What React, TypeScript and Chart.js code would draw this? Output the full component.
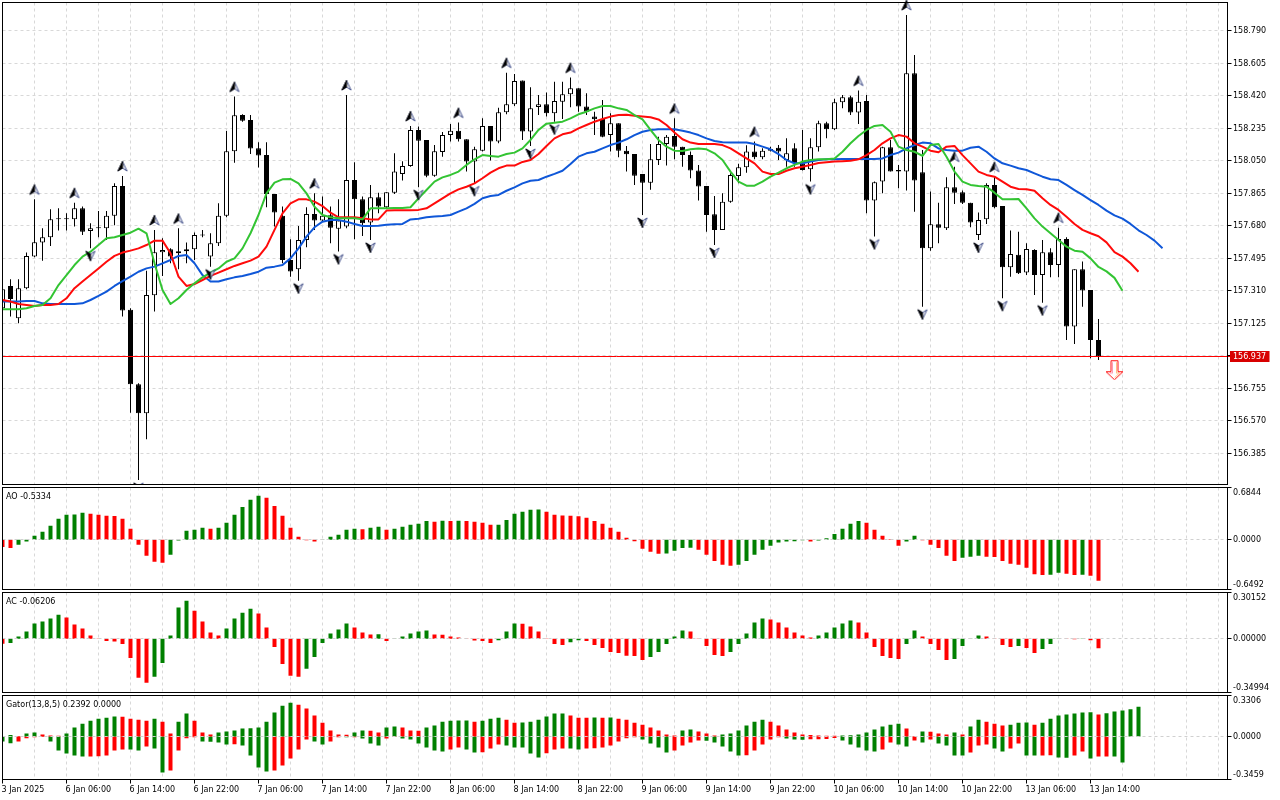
import React, { useEffect, useRef } from 'react';
import { Chart, registerables } from 'chart.js';

Chart.register(...registerables);

// ---------------- DATA (hourly bars, index 0 = "3 Jan 2025") ----------------
const opens = [
  157.210, 157.337, 157.153, 157.324, 157.504, 157.584, 157.614, 157.717, 157.718, 157.717,
  157.779, 157.650, 157.665, 157.665, 157.737, 157.906, 157.201, 156.777, 156.612, 157.284,
  157.529, 157.546, 157.523, 157.534, 157.546, 157.624, 157.504, 157.580, 157.736, 158.104,
  158.310, 158.282, 158.121, 158.083, 157.861, 157.736, 157.485, 157.432, 157.599, 157.747,
  157.709, 157.739, 157.663, 157.675, 157.940, 157.830, 157.698, 157.842, 157.785, 157.868,
  157.975, 158.020, 158.225, 158.168, 157.965, 158.100, 158.197, 158.221, 158.172, 158.045,
  158.107, 158.248, 158.159, 158.326, 158.371, 158.506, 158.216, 158.356, 158.371, 158.320,
  158.386, 158.428, 158.462, 158.358, 158.301, 158.288, 158.197, 158.263, 158.106, 158.088,
  157.975, 157.925, 158.054, 158.145, 158.191, 158.130, 158.083, 157.994, 157.906, 157.745,
  157.656, 157.817, 157.963, 158.013, 158.102, 158.069, 158.107, 158.124, 158.054, 158.121,
  158.035, 158.001, 158.126, 158.263, 158.229, 158.383, 158.411, 158.324, 158.390, 157.823,
  157.931, 158.126, 157.997, 157.988, 158.548, 157.984, 157.552, 157.688, 157.665, 157.899,
  157.870, 157.811, 157.627, 157.717, 157.912, 157.792, 157.443, 157.514, 157.413, 157.542,
  157.400, 157.529, 157.457, 157.605, 157.106, 157.432, 157.314, 157.030,
];
const highs = [
  157.343, 157.375, 157.375, 157.527, 157.830, 157.665, 157.774, 157.779, 157.751, 157.811,
  157.789, 157.694, 157.764, 157.764, 157.921, 157.963, 157.210, 156.783, 157.424, 157.656,
  157.608, 157.552, 157.665, 157.584, 157.641, 157.656, 157.637, 157.808, 158.219, 158.415,
  158.314, 158.310, 158.155, 158.155, 157.861, 157.789, 157.603, 157.679, 157.785, 157.865,
  157.846, 157.789, 157.830, 158.424, 158.041, 157.846, 157.912, 157.868, 157.870, 158.092,
  158.047, 158.248, 158.244, 158.168, 158.140, 158.214, 158.259, 158.267, 158.172, 158.130,
  158.291, 158.248, 158.352, 158.551, 158.544, 158.506, 158.468, 158.424, 158.438, 158.500,
  158.500, 158.523, 158.462, 158.434, 158.329, 158.396, 158.320, 158.263, 158.134, 158.088,
  157.975, 158.145, 158.187, 158.197, 158.291, 158.130, 158.102, 158.026, 157.906, 157.849,
  157.865, 157.978, 158.032, 158.138, 158.159, 158.121, 158.130, 158.140, 158.178, 158.149,
  158.225, 158.178, 158.278, 158.272, 158.402, 158.424, 158.419, 158.449, 158.424, 157.931,
  158.130, 158.168, 158.026, 158.880, 158.652, 158.111, 157.874, 157.811, 157.956, 158.016,
  157.880, 157.811, 157.755, 157.921, 157.959, 157.792, 157.652, 157.646, 157.580, 157.546,
  157.599, 157.552, 157.669, 157.614, 157.432, 157.476, 157.314, 157.149,
];
const lows = [
  157.191, 157.163, 157.125, 157.318, 157.500, 157.481, 157.565, 157.652, 157.652, 157.675,
  157.627, 157.552, 157.614, 157.599, 157.682, 157.163, 156.616, 156.233, 156.464, 157.191,
  157.394, 157.466, 157.432, 157.466, 157.485, 157.614, 157.447, 157.565, 157.728, 158.039,
  158.272, 158.088, 158.011, 157.785, 157.675, 157.466, 157.390, 157.367, 157.557, 157.656,
  157.703, 157.580, 157.533, 157.665, 157.603, 157.622, 157.599, 157.751, 157.781, 157.861,
  157.937, 158.016, 157.899, 157.956, 157.959, 158.073, 158.159, 158.159, 157.988, 157.921,
  158.102, 158.051, 158.149, 158.314, 158.362, 158.168, 158.134, 158.310, 158.301, 158.272,
  158.288, 158.354, 158.329, 158.310, 158.197, 158.183, 158.102, 158.069, 157.988, 157.912,
  157.741, 157.884, 158.026, 158.022, 158.058, 158.016, 157.950, 157.823, 157.646, 157.570,
  157.656, 157.811, 157.921, 157.982, 158.058, 158.058, 158.102, 158.054, 158.016, 158.016,
  157.994, 157.931, 158.102, 158.178, 158.225, 158.348, 158.310, 158.259, 157.751, 157.618,
  157.865, 157.988, 157.893, 157.880, 157.760, 157.219, 157.538, 157.580, 157.656, 157.804,
  157.804, 157.671, 157.599, 157.690, 157.779, 157.267, 157.390, 157.405, 157.400, 157.286,
  157.242, 157.386, 157.386, 157.030, 157.007, 157.219, 156.925, 156.916,
];
const closes = [
  157.318, 157.263, 157.324, 157.508, 157.586, 157.614, 157.717, 157.718, 157.717, 157.779,
  157.646, 157.665, 157.667, 157.737, 157.906, 157.197, 156.777, 156.612, 157.286, 157.529,
  157.542, 157.504, 157.534, 157.546, 157.627, 157.625, 157.580, 157.736, 158.104, 158.309,
  158.278, 158.119, 158.079, 157.861, 157.755, 157.485, 157.419, 157.599, 157.747, 157.709,
  157.736, 157.669, 157.709, 157.940, 157.830, 157.694, 157.842, 157.789, 157.870, 157.988,
  158.020, 158.225, 158.164, 157.965, 158.104, 158.197, 158.221, 158.172, 158.045, 158.115,
  158.248, 158.159, 158.326, 158.371, 158.504, 158.216, 158.348, 158.371, 158.320, 158.390,
  158.428, 158.462, 158.358, 158.329, 158.286, 158.187, 158.263, 158.107, 158.087, 157.965,
  157.925, 158.058, 158.145, 158.187, 158.130, 158.083, 157.994, 157.903, 157.741, 157.656,
  157.817, 157.969, 158.013, 158.102, 158.069, 158.107, 158.117, 158.102, 158.092, 158.035,
  157.997, 158.126, 158.263, 158.229, 158.383, 158.411, 158.324, 158.386, 157.823, 157.927,
  158.126, 157.988, 157.988, 158.548, 157.937, 157.552, 157.688, 157.669, 157.899, 157.868,
  157.811, 157.698, 157.713, 157.912, 157.785, 157.443, 157.519, 157.409, 157.548, 157.400,
  157.529, 157.457, 157.605, 157.106, 157.432, 157.311, 157.030, 156.937,
];

// Alligator (already shifted forward: lips +3, teeth +5, jaw +8 bars)
const lipsLine = [
  157.204, 157.204, 157.204, 157.210, 157.223, 157.229, 157.267, 157.342, 157.399, 157.456,
  157.504, 157.532, 157.570, 157.608, 157.614, 157.627, 157.640, 157.663, 157.637, 157.466,
  157.314, 157.234, 157.267, 157.314, 157.352, 157.386, 157.413, 157.437, 157.475, 157.494,
  157.551, 157.637, 157.741, 157.864, 157.925, 157.944, 157.946, 157.921, 157.864, 157.788,
  157.741, 157.728, 157.722, 157.722, 157.722, 157.716, 157.779, 157.779, 157.779, 157.781,
  157.781, 157.785, 157.836, 157.883, 157.931, 157.955, 157.969, 157.988, 158.026, 158.058,
  158.082, 158.077, 158.073, 158.088, 158.096, 158.120, 158.168, 158.225, 158.261, 158.266,
  158.272, 158.291, 158.314, 158.329, 158.348, 158.361, 158.361, 158.348, 158.339, 158.310,
  158.285, 158.225, 158.168, 158.130, 158.107, 158.105, 158.115, 158.119, 158.115, 158.092,
  158.054, 157.988, 157.931, 157.908, 157.908, 157.931, 157.959, 157.982, 158.007, 158.026,
  158.045, 158.054, 158.058, 158.058, 158.063, 158.101, 158.149, 158.191, 158.225, 158.248,
  158.253, 158.215, 158.130, 158.111, 158.101, 158.077, 158.139, 158.145, 158.073, 157.988,
  157.931, 157.912, 157.906, 157.902, 157.868, 157.830, 157.830, 157.832, 157.779, 157.722,
  157.675, 157.637, 157.599, 157.561, 157.538, 157.532, 157.494, 157.445, 157.420, 157.383,
  157.310,
];
const teethLine = [
  157.257, 157.248, 157.234, 157.229, 157.223, 157.229, 157.229, 157.234, 157.267, 157.324,
  157.362, 157.399, 157.437, 157.475, 157.508, 157.527, 157.538, 157.551, 157.570, 157.595,
  157.595, 157.523, 157.390, 157.337, 157.348, 157.371, 157.394, 157.413, 157.432, 157.451,
  157.466, 157.481, 157.504, 157.561, 157.656, 157.750, 157.807, 157.830, 157.830, 157.817,
  157.792, 157.754, 157.728, 157.728, 157.728, 157.722, 157.716, 157.716, 157.766, 157.768,
  157.768, 157.768, 157.770, 157.779, 157.807, 157.836, 157.864, 157.887, 157.902, 157.921,
  157.950, 157.982, 158.007, 158.022, 158.022, 158.043, 158.054, 158.088, 158.134, 158.177,
  158.200, 158.210, 158.234, 158.253, 158.272, 158.287, 158.301, 158.310, 158.312, 158.306,
  158.301, 158.297, 158.285, 158.253, 158.210, 158.172, 158.153, 158.145, 158.145, 158.145,
  158.139, 158.120, 158.092, 158.063, 158.035, 157.988, 157.974, 157.974, 157.993, 158.007,
  158.016, 158.026, 158.037, 158.041, 158.045, 158.047, 158.050, 158.058, 158.082, 158.111,
  158.149, 158.177, 158.196, 158.187, 158.149, 158.130, 158.107, 158.098, 158.130, 158.134,
  158.082, 158.035, 157.988, 157.969, 157.959, 157.931, 157.902, 157.889, 157.887, 157.879,
  157.836, 157.798, 157.770, 157.731, 157.690, 157.656, 157.637, 157.620, 157.585, 157.529,
  157.504, 157.466, 157.418,
];
const jawLine = [
  157.248, 157.248, 157.248, 157.251, 157.251, 157.238, 157.234, 157.234, 157.234, 157.234,
  157.238, 157.257, 157.280, 157.305, 157.337, 157.365, 157.390, 157.418, 157.437, 157.447,
  157.466, 157.485, 157.508, 157.513, 157.466, 157.399, 157.362, 157.362, 157.375, 157.386,
  157.394, 157.405, 157.418, 157.441, 157.447, 157.456, 157.494, 157.551, 157.618, 157.671,
  157.703, 157.712, 157.712, 157.703, 157.690, 157.678, 157.678, 157.680, 157.686, 157.688,
  157.690, 157.716, 157.720, 157.728, 157.732, 157.735, 157.741, 157.760, 157.779, 157.804,
  157.836, 157.849, 157.855, 157.879, 157.898, 157.921, 157.936, 157.940, 157.959, 157.975,
  157.993, 158.031, 158.073, 158.092, 158.101, 158.120, 158.139, 158.153, 158.172, 158.196,
  158.215, 158.225, 158.229, 158.229, 158.229, 158.221, 158.210, 158.196, 158.177, 158.162,
  158.155, 158.153, 158.153, 158.153, 158.145, 158.130, 158.115, 158.088, 158.054, 158.035,
  158.035, 158.045, 158.054, 158.058, 158.058, 158.060, 158.060, 158.060, 158.060, 158.060,
  158.063, 158.082, 158.096, 158.120, 158.139, 158.153, 158.149, 158.120, 158.111, 158.107,
  158.107, 158.124, 158.130, 158.101, 158.063, 158.035, 158.022, 158.007, 157.997, 157.978,
  157.959, 157.944, 157.940, 157.912, 157.883, 157.855, 157.826, 157.798, 157.766, 157.739,
  157.720, 157.690, 157.654, 157.627, 157.595, 157.552,
];

// Fractal bars (indices into the price arrays)
const upFractalBars = [4, 9, 15, 19, 22, 29, 39, 43, 51, 57, 63, 71, 84, 94, 107, 113, 119, 124, 132];
const downFractalBars = [11, 17, 26, 37, 42, 46, 52, 59, 66, 69, 80, 89, 101, 109, 115, 122, 125, 130];

// Awesome Oscillator
const aoValues = [
  -0.092, -0.105, -0.065, -0.022, 0.052, 0.105, 0.183, 0.275, 0.327, 0.330,
  0.353, 0.340, 0.327, 0.314, 0.312, 0.275, 0.144, -0.065, -0.209, -0.288,
  -0.301, -0.196, -0.009, 0.118, 0.131, 0.157, 0.144, 0.157, 0.222, 0.327,
  0.431, 0.523, 0.575, 0.549, 0.444, 0.314, 0.157, 0.039, -0.004, -0.022,
  0.004, 0.039, 0.065, 0.131, 0.144, 0.140, 0.157, 0.170, 0.131, 0.144,
  0.170, 0.196, 0.209, 0.248, 0.235, 0.250, 0.247, 0.249, 0.246, 0.235,
  0.222, 0.196, 0.197, 0.261, 0.340, 0.366, 0.392, 0.396, 0.366, 0.327,
  0.318, 0.314, 0.310, 0.288, 0.248, 0.209, 0.157, 0.105, 0.026, -0.017,
  -0.118, -0.157, -0.183, -0.180, -0.144, -0.105, -0.103, -0.131, -0.196, -0.275,
  -0.327, -0.340, -0.327, -0.275, -0.196, -0.131, -0.078, -0.035, -0.022, -0.017,
  -0.004, -0.022, -0.009, 0.022, 0.078, 0.144, 0.209, 0.248, 0.222, 0.131,
  0.052, 0.009, -0.078, -0.022, 0.052, -0.004, -0.065, -0.105, -0.209, -0.275,
  -0.235, -0.222, -0.209, -0.222, -0.224, -0.275, -0.314, -0.327, -0.366, -0.449,
  -0.458, -0.457, -0.431, -0.444, -0.458, -0.456, -0.471, -0.5334,
];

// Accelerator Oscillator
const acValues = [
  -0.032, -0.028, 0.015, 0.047, 0.099, 0.112, 0.132, 0.157, 0.138, 0.093,
  0.067, 0.022, 0.002, -0.015, -0.017, -0.034, -0.125, -0.254, -0.287, -0.248,
  -0.157, 0.022, 0.203, 0.248, 0.183, 0.112, 0.041, 0.022, 0.067, 0.132,
  0.170, 0.196, 0.164, 0.073, -0.054, -0.164, -0.241, -0.248, -0.196, -0.119,
  -0.028, 0.034, 0.060, 0.099, 0.073, 0.041, 0.028, 0.029, -0.015, 0.002,
  0.015, 0.034, 0.047, 0.054, 0.028, 0.027, 0.015, 0.009, 0.002, -0.011,
  -0.015, -0.028, -0.009, 0.047, 0.099, 0.098, 0.080, 0.047, -0.002, -0.034,
  -0.041, -0.022, -0.009, -0.015, -0.041, -0.060, -0.086, -0.093, -0.110, -0.112,
  -0.138, -0.119, -0.086, -0.034, 0.015, 0.054, 0.047, 0.002, -0.047, -0.106,
  -0.112, -0.086, -0.034, 0.034, 0.106, 0.132, 0.125, 0.106, 0.073, 0.041,
  0.022, 0.009, 0.022, 0.041, 0.073, 0.099, 0.119, 0.106, 0.041, -0.054,
  -0.112, -0.125, -0.132, -0.034, 0.054, 0.015, -0.034, -0.073, -0.138, -0.132,
  -0.047, 0.002, 0.022, 0.015, -0.002, -0.041, -0.054, -0.047, -0.060, -0.093,
  -0.067, -0.034, 0.002, -0.002, -0.003, 0.002, -0.009, -0.06206,
];

// Gator oscillator (upper = |jaw - teeth|, lower = -|teeth - lips|)
const gatorUpper = [
  0.005, 0.013, 0.005, 0.024, 0.032, 0.016, 0.008, 0.007, 0.024, 0.072,
  0.104, 0.128, 0.144, 0.152, 0.161, 0.160, 0.144, 0.136, 0.128, 0.144,
  0.120, 0.024, 0.120, 0.185, 0.128, 0.032, 0.016, 0.032, 0.040, 0.048,
  0.064, 0.066, 0.072, 0.120, 0.193, 0.249, 0.273, 0.257, 0.225, 0.169,
  0.112, 0.048, 0.016, 0.015, 0.032, 0.048, 0.047, 0.032, 0.072, 0.080,
  0.072, 0.048, 0.047, 0.072, 0.088, 0.120, 0.128, 0.129, 0.130, 0.120,
  0.128, 0.144, 0.152, 0.136, 0.112, 0.113, 0.120, 0.136, 0.161, 0.185,
  0.186, 0.169, 0.152, 0.151, 0.153, 0.151, 0.153, 0.144, 0.136, 0.112,
  0.096, 0.072, 0.048, 0.016, 0.008, 0.048, 0.056, 0.040, 0.024, 0.008,
  0.016, 0.024, 0.048, 0.088, 0.120, 0.136, 0.120, 0.088, 0.056, 0.032,
  0.016, 0.013, 0.008, 0.007, 0.006, 0.008, 0.011, 0.016, 0.032, 0.056,
  0.080, 0.096, 0.104, 0.064, 0.002, 0.040, 0.039, 0.024, 0.016, 0.032,
  0.016, 0.080, 0.136, 0.120, 0.104, 0.088, 0.096, 0.112, 0.113, 0.096,
  0.112, 0.144, 0.169, 0.177, 0.185, 0.193, 0.195, 0.177, 0.187, 0.201,
  0.209, 0.219, 0.2392,
];
const gatorLower = [
  -0.040, -0.054, -0.040, -0.013, -0.005, -0.004, -0.040, -0.112, -0.136, -0.152,
  -0.161, -0.160, -0.159, -0.152, -0.112, -0.104, -0.105, -0.112, -0.080, -0.096,
  -0.289, -0.273, -0.112, -0.013, -0.005, -0.040, -0.041, -0.048, -0.064, -0.063,
  -0.072, -0.152, -0.249, -0.281, -0.273, -0.233, -0.177, -0.104, -0.024, -0.040,
  -0.064, -0.040, -0.005, -0.006, -0.005, -0.016, -0.056, -0.072, -0.016, -0.003,
  -0.016, -0.024, -0.056, -0.088, -0.112, -0.120, -0.104, -0.088, -0.104, -0.128,
  -0.127, -0.096, -0.064, -0.072, -0.088, -0.089, -0.136, -0.169, -0.134, -0.104,
  -0.096, -0.097, -0.104, -0.096, -0.095, -0.088, -0.072, -0.040, -0.013, -0.005,
  -0.024, -0.056, -0.088, -0.128, -0.112, -0.072, -0.048, -0.032, -0.033, -0.048,
  -0.080, -0.120, -0.152, -0.151, -0.112, -0.064, -0.024, -0.005, -0.016, -0.024,
  -0.025, -0.022, -0.021, -0.020, -0.011, -0.032, -0.064, -0.088, -0.112, -0.120,
  -0.104, -0.048, -0.064, -0.080, -0.032, -0.048, -0.024, -0.056, -0.072, -0.152,
  -0.153, -0.128, -0.072, -0.064, -0.096, -0.120, -0.096, -0.056, -0.152, -0.153,
  -0.152, -0.151, -0.169, -0.170, -0.152, -0.120, -0.177, -0.161, -0.160, -0.161,
  -0.209, 0, 0,
];

// Axis ticks / ranges
const priceTicks = [158.790, 158.605, 158.420, 158.235, 158.050, 157.865, 157.680, 157.495, 157.310, 157.125, 156.940, 156.755, 156.570, 156.385];
const priceRange = [156.2069, 158.9505];
const aoRange = [-0.6492, 0.6844];
const acRange = [-0.34994, 0.30152];
const gatorRange = [-0.3459, 0.3306];

const timeLabelBars = [0, 8, 16, 24, 32, 40, 48, 56, 64, 72, 80, 88, 96, 104, 112, 120, 128, 136];
const timeLabels = [
  '3 Jan 2025', '6 Jan 06:00', '6 Jan 14:00', '6 Jan 22:00', '7 Jan 06:00', '7 Jan 14:00',
  '7 Jan 22:00', '8 Jan 06:00', '8 Jan 14:00', '8 Jan 22:00', '9 Jan 06:00', '9 Jan 14:00',
  '9 Jan 22:00', '10 Jan 06:00', '10 Jan 14:00', '10 Jan 22:00', '13 Jan 06:00', '13 Jan 14:00',
];

// ---------------- STYLE ----------------
const FONT = '8px "DejaVu Sans", "Liberation Sans", sans-serif';
const X_MIN = 0;
const X_MAX = 153.125;
const AXIS_W = 52.5;
const GRID_STEP = 4;
const GRID_COLOR = '#d8d8d8';
const GREEN = '#008000';
const RED = '#ff0000';
const LIPS_COLOR = '#33c433';
const TEETH_COLOR = '#ff0a0a';
const JAW_COLOR = '#0f57d8';
const PRICE_LINE_COLOR = '#ff0000';

const crisp = (v: number) => Math.floor(v) + 0.5;

function makeFractalImage(up: boolean): HTMLCanvasElement {
  const c = document.createElement('canvas');
  c.width = 12;
  c.height = 34;
  const g = c.getContext('2d') as CanvasRenderingContext2D;
  g.save();
  g.translate(6, up ? 7.5 : 24.5);
  if (!up) g.scale(1, -1);
  g.beginPath();
  g.moveTo(0, -5);
  g.lineTo(4.5, 4.5);
  g.lineTo(0, 1.5);
  g.lineTo(-4.5, 4.5);
  g.closePath();
  g.fillStyle = '#ffffff';
  g.fill();
  g.strokeStyle = '#3c4a86';
  g.lineWidth = 1;
  g.stroke();
  g.beginPath();
  g.moveTo(0, -5);
  g.lineTo(-4.5, 4.5);
  g.lineTo(0, 1.5);
  g.closePath();
  g.fillStyle = '#000000';
  g.fill();
  g.strokeStyle = '#000000';
  g.stroke();
  g.restore();
  return c;
}

function makeSellArrow(): HTMLCanvasElement {
  const c = document.createElement('canvas');
  c.width = 19;
  c.height = 48;
  const g = c.getContext('2d') as CanvasRenderingContext2D;
  g.beginPath();
  g.moveTo(6, 28.5);
  g.lineTo(13, 28.5);
  g.lineTo(13, 39.5);
  g.lineTo(18, 39.5);
  g.lineTo(9.5, 47.5);
  g.lineTo(1, 39.5);
  g.lineTo(6, 39.5);
  g.closePath();
  g.fillStyle = '#ffffff';
  g.fill();
  g.strokeStyle = '#ff1010';
  g.lineWidth = 1;
  g.stroke();
  g.beginPath();
  g.moveTo(7.5, 30);
  g.lineTo(7.5, 41);
  g.lineTo(4.5, 41);
  g.strokeStyle = '#ff9ab4';
  g.stroke();
  g.beginPath();
  g.moveTo(11.5, 30);
  g.lineTo(11.5, 41);
  g.lineTo(14.5, 41);
  g.lineTo(9.5, 45.5);
  g.strokeStyle = '#ffc080';
  g.stroke();
  return c;
}

function colorize(values: number[], firstColor: string, byMagnitude: boolean) {
  return values.map((v, i) => {
    if (i === 0) return firstColor;
    const a = byMagnitude ? Math.abs(v) : v;
    const b = byMagnitude ? Math.abs(values[i - 1]) : values[i - 1];
    return a > b ? GREEN : RED;
  });
}

interface PanelCfg {
  name: string;
  labelTicks: number[];
  decimals: number;
  gridValues?: number[];
  subLabels?: boolean;
  zeroLine?: boolean;
  legend?: string;
  priceLine?: number;
  xLabels?: boolean;
}

function panelPlugin(cfg: PanelCfg) {
  return {
    id: 'panel_' + cfg.name,
    beforeDatasetsDraw(chart: any) {
      const { ctx, chartArea: a, scales } = chart;
      const xs = scales.x;
      const ys = scales.y;
      ctx.save();
      ctx.lineWidth = 1;
      ctx.strokeStyle = GRID_COLOR;
      ctx.setLineDash([3, 3]);
      ctx.beginPath();
      for (let b = GRID_STEP; b < X_MAX; b += GRID_STEP) {
        const px = crisp(xs.getPixelForValue(b));
        ctx.moveTo(px, a.top);
        ctx.lineTo(px, a.bottom);
      }
      (cfg.gridValues || []).forEach((v) => {
        const py = crisp(ys.getPixelForValue(v));
        ctx.moveTo(a.left, py);
        ctx.lineTo(a.right, py);
      });
      ctx.stroke();
      ctx.restore();
    },
    afterDatasetsDraw(chart: any) {
      const { ctx, chartArea: a, scales } = chart;
      ctx.save();
      ctx.lineWidth = 1;
      if (cfg.zeroLine) {
        const py = crisp(scales.y.getPixelForValue(0));
        ctx.strokeStyle = '#d0d0d0';
        ctx.setLineDash([3, 3]);
        ctx.beginPath();
        ctx.moveTo(a.left, py);
        ctx.lineTo(a.right, py);
        ctx.stroke();
        ctx.setLineDash([]);
      }
      if (cfg.priceLine !== undefined) {
        const py = crisp(scales.y.getPixelForValue(cfg.priceLine));
        ctx.strokeStyle = PRICE_LINE_COLOR;
        ctx.setLineDash([]);
        ctx.beginPath();
        ctx.moveTo(a.left, py);
        ctx.lineTo(a.right + 3, py);
        ctx.stroke();
      }
      ctx.restore();
    },
    afterDraw(chart: any) {
      const { ctx, chartArea: a, scales } = chart;
      const xs = scales.x;
      const ys = scales.y;
      ctx.save();
      ctx.setLineDash([]);
      ctx.lineWidth = 1;
      ctx.strokeStyle = '#000000';
      ctx.strokeRect(a.left, a.top, a.right - a.left, a.bottom - a.top);
      ctx.font = FONT;
      ctx.fillStyle = '#000000';
      ctx.textAlign = 'left';
      ctx.textBaseline = 'middle';
      cfg.labelTicks.forEach((v, idx) => {
        const py = crisp(ys.getPixelForValue(v));
        ctx.beginPath();
        ctx.moveTo(a.right, py);
        ctx.lineTo(a.right + 4, py);
        ctx.stroke();
        let ty = py;
        if (cfg.subLabels) {
          if (idx === 0) ty = a.top + 5;
          else if (idx === cfg.labelTicks.length - 1) ty = a.bottom - 5;
        }
        ctx.fillText(v.toFixed(cfg.decimals), a.right + 5.5, ty);
      });
      if (cfg.priceLine !== undefined) {
        const py = crisp(ys.getPixelForValue(cfg.priceLine));
        ctx.fillStyle = '#d80000';
        ctx.fillRect(a.right + 2.5, py - 5.5, 39.5, 11);
        ctx.fillStyle = '#ffffff';
        ctx.fillText(cfg.priceLine.toFixed(3), a.right + 5.5, py + 0.5);
      }
      if (cfg.legend) {
        ctx.fillStyle = '#000000';
        ctx.fillText(cfg.legend, a.left + 3.5, a.top + 9);
      }
      if (cfg.xLabels) {
        ctx.fillStyle = '#000000';
        ctx.strokeStyle = '#000000';
        timeLabelBars.forEach((b, i) => {
          const px = crisp(xs.getPixelForValue(b));
          ctx.beginPath();
          ctx.moveTo(px, a.bottom);
          ctx.lineTo(px, a.bottom + 4);
          ctx.stroke();
          ctx.fillText(timeLabels[i], px - 1, a.bottom + 10);
        });
      }
      ctx.restore();
    },
  };
}

function makeOptions(range: number[], padTop: number, padBottom: number) {
  return {
    responsive: false,
    maintainAspectRatio: false,
    animation: false,
    events: [],
    layout: { autoPadding: false, padding: { left: 2.5, right: 0, top: padTop, bottom: padBottom } },
    plugins: {
      legend: { display: false },
      tooltip: { enabled: false },
      title: { display: false },
    },
    scales: {
      x: {
        type: 'linear',
        min: X_MIN,
        max: X_MAX,
        offset: false,
        bounds: 'data',
        display: true,
        grid: { display: false },
        border: { display: false },
        ticks: { display: false },
        afterFit: (s: any) => { s.height = 0; },
      },
      y: {
        type: 'linear',
        position: 'right',
        min: range[0],
        max: range[1],
        bounds: 'data',
        display: true,
        grid: { display: false },
        border: { display: false },
        ticks: { display: false },
        afterFit: (s: any) => { s.width = AXIS_W; },
      },
    },
  };
}

function histDataset(values: number[], colors: string[]) {
  return {
    type: 'bar',
    data: values.map((v, i) => ({ x: i, y: v })),
    backgroundColor: colors,
    borderWidth: 0,
    barThickness: 4,
    grouped: false,
    inflateAmount: 0,
    clip: 0,
  };
}

export default function App() {
  const mainRef = useRef<HTMLCanvasElement>(null);
  const aoRef = useRef<HTMLCanvasElement>(null);
  const acRef = useRef<HTMLCanvasElement>(null);
  const gatorRef = useRef<HTMLCanvasElement>(null);

  useEffect(() => {
    const charts: Chart[] = [];
    const lastIdx = closes.length - 1;
    const lastPrice = closes[lastIdx];
    const upImg = makeFractalImage(true);
    const downImg = makeFractalImage(false);
    const sellImg = makeSellArrow();

    const bull = opens.map((o, i) => closes[i] >= o);
    const toPts = (arr: number[]) => arr.map((v, i) => ({ x: i, y: v }));

    if (mainRef.current) {
      charts.push(new Chart(mainRef.current, {
        type: 'bar',
        data: {
          datasets: [
            {
              type: 'line', data: upFractalBars.map((b) => ({ x: b, y: highs[b] })),
              showLine: false, pointStyle: upImg, pointRadius: 5, order: 0,
              clip: { left: 0, right: 0, top: 3, bottom: 0 },
            },
            {
              type: 'line', data: downFractalBars.map((b) => ({ x: b, y: lows[b] })),
              showLine: false, pointStyle: downImg, pointRadius: 5, order: 0, clip: 0,
            },
            {
              type: 'line', data: [{ x: lastIdx + 2, y: lastPrice }],
              showLine: false, pointStyle: sellImg, pointRadius: 5, order: 0, clip: 0,
            },
            {
              type: 'line', data: toPts(lipsLine), borderColor: LIPS_COLOR, borderWidth: 2,
              pointRadius: 0, tension: 0, borderJoinStyle: 'round', order: 1, clip: 0,
            },
            {
              type: 'line', data: toPts(teethLine), borderColor: TEETH_COLOR, borderWidth: 2,
              pointRadius: 0, tension: 0, borderJoinStyle: 'round', order: 2, clip: 0,
            },
            {
              type: 'line', data: toPts(jawLine), borderColor: JAW_COLOR, borderWidth: 2,
              pointRadius: 0, tension: 0, borderJoinStyle: 'round', order: 3, clip: 0,
            },
            {
              type: 'bar', data: opens.map((o, i) => ({ x: i, y: [o, closes[i]] })),
              backgroundColor: bull.map((b) => (b ? '#ffffff' : '#000000')),
              borderColor: '#000000', borderWidth: 1, borderSkipped: false,
              barThickness: 5, minBarLength: 1, grouped: false, inflateAmount: 0, order: 5, clip: 0,
            },
            {
              type: 'bar', data: lows.map((l, i) => ({ x: i, y: [l, highs[i]] })),
              backgroundColor: '#000000', borderWidth: 0, barThickness: 1,
              grouped: false, inflateAmount: 0, order: 6, clip: 0,
            },
          ],
        } as any,
        options: makeOptions(priceRange, 2.5, 1.5) as any,
        plugins: [panelPlugin({
          name: 'main', labelTicks: priceTicks, decimals: 3, gridValues: priceTicks, priceLine: lastPrice,
        })],
      }));
    }

    if (aoRef.current) {
      charts.push(new Chart(aoRef.current, {
        type: 'bar',
        data: { datasets: [histDataset(aoValues, colorize(aoValues, RED, false))] } as any,
        options: makeOptions(aoRange, 1.5, 1.5) as any,
        plugins: [panelPlugin({
          name: 'ao', labelTicks: [aoRange[1], 0, aoRange[0]], decimals: 4, subLabels: true, zeroLine: true,
          legend: 'AO ' + aoValues[aoValues.length - 1].toFixed(4),
        })],
      }));
    }

    if (acRef.current) {
      charts.push(new Chart(acRef.current, {
        type: 'bar',
        data: { datasets: [histDataset(acValues, colorize(acValues, RED, false))] } as any,
        options: makeOptions(acRange, 1.5, 1.5) as any,
        plugins: [panelPlugin({
          name: 'ac', labelTicks: [acRange[1], 0, acRange[0]], decimals: 5, subLabels: true, zeroLine: true,
          legend: 'AC ' + acValues[acValues.length - 1].toFixed(5),
        })],
      }));
    }

    if (gatorRef.current) {
      const lastUp = gatorUpper[gatorUpper.length - 1];
      const lastLow = Math.abs(gatorLower[gatorLower.length - 1]);
      charts.push(new Chart(gatorRef.current, {
        type: 'bar',
        data: {
          datasets: [
            histDataset(gatorUpper, colorize(gatorUpper, RED, true)),
            histDataset(gatorLower, colorize(gatorLower, GREEN, true)),
          ],
        } as any,
        options: makeOptions(gatorRange, 1.5, 20.5) as any,
        plugins: [panelPlugin({
          name: 'gator', labelTicks: [gatorRange[1], 0, gatorRange[0]], decimals: 4, subLabels: true,
          zeroLine: true, xLabels: true,
          legend: 'Gator(13,8,5) ' + lastUp.toFixed(4) + ' ' + lastLow.toFixed(4),
        })],
      }));
    }

    return () => { charts.forEach((c) => c.destroy()); };
  }, []);

  const abs = (top: number): React.CSSProperties => ({ position: 'absolute', left: 0, top });

  return (
    <div style={{ position: 'fixed', left: 0, top: 0, width: 1280, height: 800, background: '#ffffff', overflow: 'hidden' }}>
      <canvas ref={mainRef} width={1280} height={486} style={abs(0)} />
      <canvas ref={aoRef} width={1280} height={105} style={abs(486)} />
      <canvas ref={acRef} width={1280} height={103} style={abs(591)} />
      <canvas ref={gatorRef} width={1280} height={106} style={abs(694)} />
    </div>
  );
}
